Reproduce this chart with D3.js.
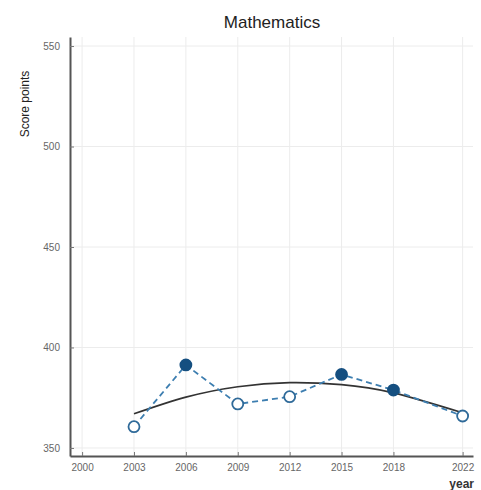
<!DOCTYPE html>
<html>
<head>
<meta charset="utf-8">
<script src="https://cdn.jsdelivr.net/npm/d3@7"></script>
<style>
  body { margin: 0; background: #fff; font-family: "Liberation Sans", Arial, sans-serif; }
</style>
</head>
<body>
<div id="chart"></div>
<script>
// Data
const YEARS = [2003, 2006, 2009, 2012, 2015, 2018, 2022];
const SCORES = [360.6, 391.3, 371.9, 375.5, 386.6, 378.8, 365.9];
const SIGNIFICANT = [false, true, false, false, true, true, false];
const TREND = [367, 375.3, 380.5, 382.5, 381.5, 377.4, 367.5];
const X_TICKS = [2000, 2003, 2006, 2009, 2012, 2015, 2018, 2022];
const Y_TICKS = [350, 400, 450, 500, 550];

const svgWidth = 481, svgHeight = 490;
const margin = { top: 37, right: 8, bottom: 34, left: 70 };
const width = svgWidth - margin.left - margin.right;
const height = svgHeight - margin.top - margin.bottom;

const svg = d3.select("#chart").append("svg")
  .attr("width", svgWidth)
  .attr("height", svgHeight);

const g = svg.append("g")
  .attr("transform", `translate(${margin.left},${margin.top})`);

const x = d3.scaleLinear().domain([1999.3, 2022.6]).range([0, width]);
const y = d3.scaleLinear().domain([346, 554.5]).range([height, 0]);

// grid
g.selectAll("line.vgrid").data(X_TICKS).join("line")
  .attr("x1", d => x(d)).attr("x2", d => x(d))
  .attr("y1", 0).attr("y2", height)
  .attr("stroke", "#ececec").attr("stroke-width", 1);
g.selectAll("line.hgrid").data(Y_TICKS).join("line")
  .attr("x1", 0).attr("x2", width)
  .attr("y1", d => y(d)).attr("y2", d => y(d))
  .attr("stroke", "#ececec").attr("stroke-width", 1);

// axes
const xAxis = d3.axisBottom(x).tickValues(X_TICKS).tickFormat(d3.format("d"))
  .tickSizeInner(-4).tickSizeOuter(0).tickPadding(8);
const yAxis = d3.axisLeft(y).tickValues(Y_TICKS)
  .tickSizeInner(-4).tickSizeOuter(0).tickPadding(10);

const xg = g.append("g").attr("transform", `translate(0,${height})`).call(xAxis);
const yg = g.append("g").call(yAxis);
[xg, yg].forEach(a => {
  a.select(".domain").attr("stroke", "#555").attr("stroke-width", 2);
  a.selectAll(".tick line").attr("stroke", "#777");
  a.selectAll(".tick text").attr("fill", "#666").attr("font-size", 10)
    .attr("font-family", "Liberation Sans, Arial, sans-serif");
});

// trend curve
g.append("path")
  .datum(YEARS.map((d, i) => [d, TREND[i]]))
  .attr("fill", "none")
  .attr("stroke", "#333")
  .attr("stroke-width", 1.6)
  .attr("d", d3.line().x(d => x(d[0])).y(d => y(d[1])).curve(d3.curveNatural));

// dashed series line
g.append("path")
  .datum(YEARS.map((d, i) => [d, SCORES[i]]))
  .attr("fill", "none")
  .attr("stroke", "#3d7eb0")
  .attr("stroke-width", 1.8)
  .attr("stroke-dasharray", "6,4")
  .attr("d", d3.line().x(d => x(d[0])).y(d => y(d[1])));

// markers
g.selectAll("circle.pt").data(YEARS).join("circle")
  .attr("cx", d => x(d))
  .attr("cy", (d, i) => y(SCORES[i]))
  .attr("r", 5.5)
  .attr("fill", (d, i) => SIGNIFICANT[i] ? "#154f80" : "#fff")
  .attr("stroke", (d, i) => SIGNIFICANT[i] ? "#154f80" : "#2f6a99")
  .attr("stroke-width", 1.8);

// texts
svg.append("text")
  .attr("x", 272).attr("y", 28)
  .attr("text-anchor", "middle")
  .attr("font-size", 17)
  .attr("fill", "#222")
  .text("Mathematics");

svg.append("text")
  .attr("transform", "rotate(-90)")
  .attr("x", -104).attr("y", 29)
  .attr("text-anchor", "middle")
  .attr("font-size", 12)
  .attr("fill", "#222")
  .text("Score points");

svg.append("text")
  .attr("x", 474).attr("y", 488)
  .attr("text-anchor", "end")
  .attr("font-size", 12)
  .attr("font-weight", 700)
  .attr("fill", "#333")
  .text("year");
</script>
</body>
</html>
